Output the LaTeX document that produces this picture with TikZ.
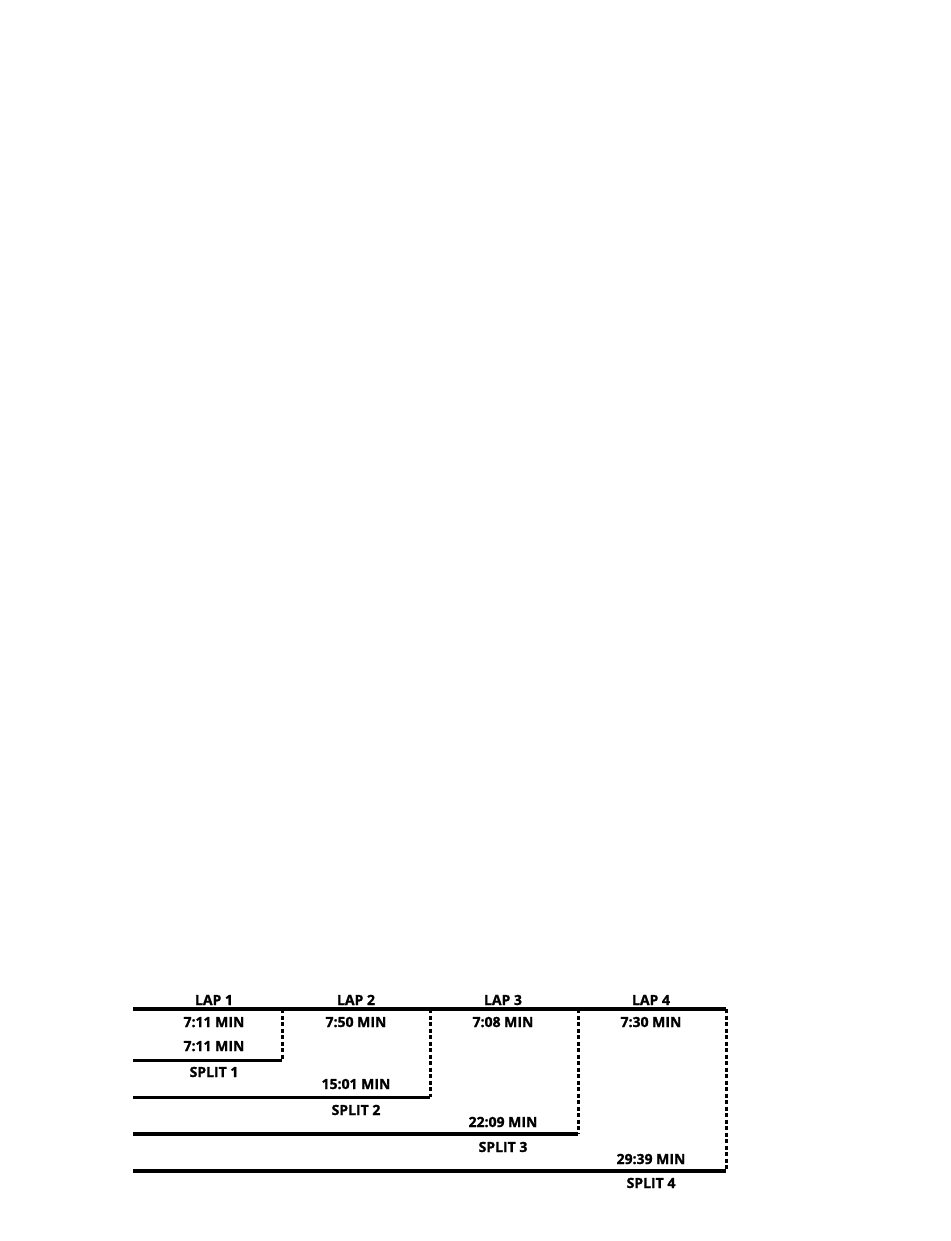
\documentclass[tikz,border=0pt]{standalone}
\usepackage{fontspec}
\setmainfont{Open Sans}[BoldFeatures={FakeBold=1.2}]
\usepackage{tikz}

\begin{document}
\begin{tikzpicture}[x=1pt,y=-1pt,
                    label/.style={anchor=base,inner sep=0pt,font=\fontsize{14}{16}\selectfont\bfseries},
                    bar/.style={line width=4pt},
                    thinbar/.style={line width=3pt},
                    lapend/.style={line width=3pt,dash pattern=on 4pt off 2.5pt}]

  \useasboundingbox (0,0) rectangle (950,1241);

  % start and lap ends along the top
  \coordinate (T0) at (133,1009);
  \coordinate (T1) at (282,1009);
  \coordinate (T2) at (430,1009);
  \coordinate (T3) at (578,1009);
  \coordinate (T4) at (726,1009);

  % split lines
  \coordinate (S1a) at (133,1060.5);
  \coordinate (S1b) at (282,1060.5);
  \coordinate (S2a) at (133,1097);
  \coordinate (S2b) at (430,1097);
  \coordinate (S3a) at (133,1134);
  \coordinate (S3b) at (578,1134);
  \coordinate (S4a) at (133,1171);
  \coordinate (S4b) at (726,1171);

  \draw[bar] (T0) -- (T4);
  \draw[thinbar] (S1a) -- (S1b);
  \draw[thinbar] (S2a) -- (S2b);
  \draw[bar] (S3a) -- (S3b);
  \draw[bar] (S4a) -- (S4b);

  \draw[lapend] (T1) -- (S1b);
  \draw[lapend] (T2) -- (S2b);
  \draw[lapend] (T3) -- (S3b);
  \draw[lapend] (T4) -- (S4b);

  % labels
  \node[label] (lap1) at (214,1005) {LAP 1};
  \node[label] (lap2) at (356,1005) {LAP 2};
  \node[label] (lap3) at (503,1005) {LAP 3};
  \node[label] (lap4) at (651,1005) {LAP 4};

  \node[label] (time1) at (214,1027) {7:11 MIN};
  \node[label] (time2) at (356,1027) {7:50 MIN};
  \node[label] (time3) at (503,1027) {7:08 MIN};
  \node[label] (time4) at (651,1027) {7:30 MIN};

  \node[label] (total1) at (214,1051) {7:11 MIN};
  \node[label] (split1) at (214,1077) {SPLIT 1};
  \node[label] (total2) at (356,1089) {15:01 MIN};
  \node[label] (split2) at (356,1115) {SPLIT 2};
  \node[label] (total3) at (503,1127) {22:09 MIN};
  \node[label] (split3) at (503,1152) {SPLIT 3};
  \node[label] (total4) at (651,1164) {29:39 MIN};
  \node[label] (split4) at (651,1188) {SPLIT 4};
\end{tikzpicture}
\end{document}
